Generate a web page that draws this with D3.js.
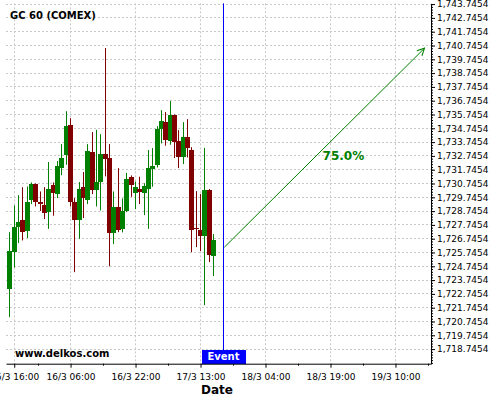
<!DOCTYPE html>
<html>
<head>
<meta charset="utf-8">
<script src="https://cdn.jsdelivr.net/npm/d3@7"></script>
<style>
  body { margin: 0; background: #fff; }
  svg { display: block; }
</style>
</head>
<body>
<div id="chart"></div>
<script>
var svgWidth = 500;
var svgHeight = 400;

// hourly candles, index -1 .. 46 on the category axis
var candleIdx = d3.range(-1, 47);
var openVals = [1723.09, 1725.80, 1727.63, 1728.12, 1727.27, 1729.57, 1730.73, 1729.42, 1729.20, 1728.72,
  1730.61, 1730.03, 1731.91, 1732.85, 1735.00, 1729.40, 1728.12, 1730.51, 1729.59, 1733.04,
  1730.32, 1730.87, 1732.90, 1732.61, 1727.20, 1729.06, 1727.49, 1728.77, 1731.23, 1730.05,
  1730.34, 1730.03, 1730.39, 1731.84, 1732.10, 1734.71, 1735.19, 1733.87, 1735.73, 1733.84,
  1732.71, 1734.13, 1733.19, 1727.49, 1727.39, 1726.98, 1730.29, 1725.53];
var highVals = [1727.22, 1729.16, 1729.90, 1730.48, 1730.53, 1730.82, 1730.75, 1730.17, 1730.48, 1732.30,
  1730.82, 1732.37, 1733.60, 1735.99, 1735.48, 1729.69, 1730.85, 1731.57, 1733.60, 1734.47,
  1734.64, 1734.32, 1740.56, 1733.60, 1730.17, 1731.86, 1729.66, 1731.52, 1731.33, 1730.89,
  1731.23, 1730.77, 1733.17, 1733.31, 1734.90, 1736.06, 1735.92, 1736.72, 1735.75, 1734.61,
  1735.19, 1735.41, 1733.38, 1730.19, 1729.98, 1733.33, 1730.34, 1727.08];
var lowVals = [1721.06, 1724.66, 1726.43, 1726.62, 1726.79, 1729.25, 1729.08, 1728.75, 1728.17, 1727.46,
  1728.41, 1729.69, 1731.35, 1732.10, 1729.08, 1724.32, 1726.74, 1728.24, 1729.25, 1729.98,
  1729.08, 1728.79, 1731.26, 1724.74, 1726.35, 1727.22, 1727.20, 1728.67, 1729.78, 1728.89,
  1729.25, 1728.46, 1727.46, 1730.51, 1731.91, 1733.65, 1733.48, 1733.55, 1732.59, 1731.86,
  1732.15, 1732.63, 1725.77, 1726.14, 1725.85, 1721.93, 1725.05, 1724.04];
var closeVals = [1725.87, 1727.61, 1727.97, 1727.27, 1729.40, 1730.73, 1729.45, 1729.30, 1728.60, 1730.36,
  1730.03, 1732.03, 1732.61, 1734.93, 1729.45, 1728.12, 1730.36, 1729.74, 1733.12, 1730.32,
  1730.87, 1732.90, 1732.56, 1727.20, 1729.06, 1727.39, 1728.77, 1731.09, 1730.63, 1730.51,
  1730.10, 1730.56, 1731.89, 1732.03, 1734.71, 1735.29, 1733.87, 1735.73, 1733.75, 1732.71,
  1734.13, 1733.36, 1727.42, 1727.39, 1726.98, 1730.29, 1725.58, 1726.67];

var xTickIdx = [0, 13, 28, 43, 58, 73, 88];
var xTickLabels = ["15/3 16:00", "16/3 06:00", "16/3 22:00", "17/3 13:00", "18/3 04:00", "18/3 19:00", "19/3 10:00"];

var yTicks = [1718.7454, 1719.7454, 1720.7454, 1721.7454, 1722.7454, 1723.7454, 1724.7454, 1725.7454,
  1726.7454, 1727.7454, 1728.7454, 1729.7454, 1730.7454, 1731.7454, 1732.7454, 1733.7454, 1734.7454,
  1735.7454, 1736.7454, 1737.7454, 1738.7454, 1739.7454, 1740.7454, 1741.7454, 1742.7454, 1743.7454];

var eventIdx = 48.27;
var arrowFrom = [48.5, 1726.13];
var arrowTo = [94.7, 1740.55];
var arrowLabel = "75.0%";

var upColor = "#008000";
var downColor = "#800000";
var font = "DejaVu Sans";

var plot = { left: 6, right: 431, top: 3.35, bottom: 363.7 };

var svg = d3.select("#chart")
  .append("svg")
  .attr("width", svgWidth)
  .attr("height", svgHeight);

var xScale = d3.scaleLinear()
  .domain([-1.9, 96.2])
  .range([plot.left, plot.right]);

var yScale = d3.scaleLinear()
  .domain([1717.687, 1743.80])
  .range([plot.bottom, plot.top]);

// crisp 1px line position
var px = v => Math.floor(v) + 0.5;

// grid
var grid = svg.append("g")
  .attr("stroke", "#c8c8c8")
  .attr("stroke-width", 1)
  .attr("stroke-dasharray", "2,2");

grid.selectAll(".hgrid")
  .data(yTicks)
  .enter()
  .append("line")
  .attr("x1", plot.left)
  .attr("x2", plot.right)
  .attr("y1", d => px(yScale(d)))
  .attr("y2", d => px(yScale(d)));

grid.selectAll(".vgrid")
  .data(xTickIdx)
  .enter()
  .append("line")
  .attr("y1", plot.top)
  .attr("y2", plot.bottom)
  .attr("x1", d => px(xScale(d)))
  .attr("x2", d => px(xScale(d)));

// candles
var candles = candleIdx.map((d, i) => ({
  i: d, o: openVals[i], h: highVals[i], l: lowVals[i], c: closeVals[i]
}));

var cg = svg.append("g");

cg.selectAll(".wick")
  .data(candles)
  .enter()
  .append("line")
  .attr("x1", d => px(xScale(d.i)))
  .attr("x2", d => px(xScale(d.i)))
  .attr("y1", d => yScale(d.h))
  .attr("y2", d => yScale(d.l))
  .attr("stroke", d => d.c >= d.o ? upColor : downColor)
  .attr("stroke-width", 1);

cg.selectAll(".body")
  .data(candles)
  .enter()
  .append("rect")
  .attr("x", d => Math.floor(xScale(d.i)) - 2)
  .attr("width", 5)
  .attr("y", d => Math.round(yScale(Math.max(d.o, d.c))))
  .attr("height", d => Math.max(1, Math.round(Math.abs(yScale(d.o) - yScale(d.c)))))
  .attr("fill", d => d.c >= d.o ? upColor : downColor);

// event line
var ex = px(xScale(eventIdx));
svg.append("line")
  .attr("x1", ex).attr("x2", ex)
  .attr("y1", plot.top).attr("y2", plot.bottom)
  .attr("stroke", "#0000ff")
  .attr("stroke-width", 1);

svg.append("rect")
  .attr("x", Math.round(ex - 22))
  .attr("y", Math.round(plot.bottom - 14))
  .attr("width", 44)
  .attr("height", 14)
  .attr("fill", "#0000ff");

svg.append("text")
  .attr("x", ex)
  .attr("y", plot.bottom - 3.5)
  .attr("text-anchor", "middle")
  .attr("font-family", font)
  .attr("font-weight", "bold")
  .attr("font-size", 10)
  .attr("fill", "#fff")
  .text("Event");

// arrow
svg.append("defs")
  .append("marker")
  .attr("id", "head")
  .attr("viewBox", "0 0 10 10")
  .attr("refX", 9)
  .attr("refY", 5)
  .attr("markerWidth", 9)
  .attr("markerHeight", 9)
  .attr("markerUnits", "userSpaceOnUse")
  .attr("orient", "auto")
  .append("path")
  .attr("d", "M1,1 L9,5 L1,9")
  .attr("fill", "none")
  .attr("stroke", upColor)
  .attr("stroke-width", 1.2);

var ax1 = xScale(arrowFrom[0]), ay1 = yScale(arrowFrom[1]);
var ax2 = xScale(arrowTo[0]), ay2 = yScale(arrowTo[1]);

svg.append("line")
  .attr("x1", ax1).attr("y1", ay1)
  .attr("x2", ax2).attr("y2", ay2)
  .attr("stroke", upColor)
  .attr("stroke-width", 1)
  .attr("marker-end", "url(#head)");

svg.append("text")
  .attr("x", (ax1 + ax2) / 2 + 19)
  .attr("y", (ay1 + ay2) / 2 + 12)
  .attr("text-anchor", "middle")
  .attr("font-family", font)
  .attr("font-weight", "bold")
  .attr("font-size", 12)
  .attr("fill", upColor)
  .text(arrowLabel);

// right axis
var fmt = d3.format(",.4f");

svg.append("g")
  .attr("transform", `translate(${plot.right}, 0)`)
  .call(d3.axisRight(yScale)
    .tickValues(d3.range(1717.7454, 1743.8, 0.2))
    .tickSize(2)
    .tickSizeOuter(0)
    .tickFormat(""))
  .call(g => g.select(".domain").remove());

var rightAxis = svg.append("g")
  .attr("transform", `translate(${plot.right}, 0)`)
  .call(d3.axisRight(yScale)
    .tickValues(yTicks)
    .tickSize(4)
    .tickSizeOuter(0)
    .tickPadding(2)
    .tickFormat(fmt));

rightAxis.attr("font-family", font).attr("font-size", 9);

// bottom axis
var minorX = xTickIdx.map(d => d - 7.5).concat([xTickIdx[xTickIdx.length - 1] + 7.5]);
svg.append("g")
  .attr("transform", `translate(0, ${plot.bottom})`)
  .call(d3.axisBottom(xScale)
    .tickValues(minorX)
    .tickSize(2)
    .tickSizeOuter(0)
    .tickFormat(""))
  .call(g => g.select(".domain").remove());

var bottomAxis = svg.append("g")
  .attr("transform", `translate(0, ${plot.bottom})`)
  .call(d3.axisBottom(xScale)
    .tickValues(xTickIdx)
    .tickSize(4)
    .tickSizeOuter(0)
    .tickPadding(6)
    .tickFormat((d, i) => xTickLabels[i]));

bottomAxis.attr("font-family", font).attr("font-size", 9);

// titles
svg.append("text")
  .attr("x", 10)
  .attr("y", 19)
  .attr("font-family", font)
  .attr("font-weight", "bold")
  .attr("font-size", 10)
  .text("GC 60 (COMEX)");

svg.append("text")
  .attr("x", 15)
  .attr("y", 357)
  .attr("font-family", font)
  .attr("font-weight", "bold")
  .attr("font-size", 10)
  .text("www.delkos.com");

svg.append("text")
  .attr("x", 217)
  .attr("y", 394)
  .attr("text-anchor", "middle")
  .attr("font-family", font)
  .attr("font-weight", "bold")
  .attr("font-size", 12)
  .text("Date");
</script>
</body>
</html>
